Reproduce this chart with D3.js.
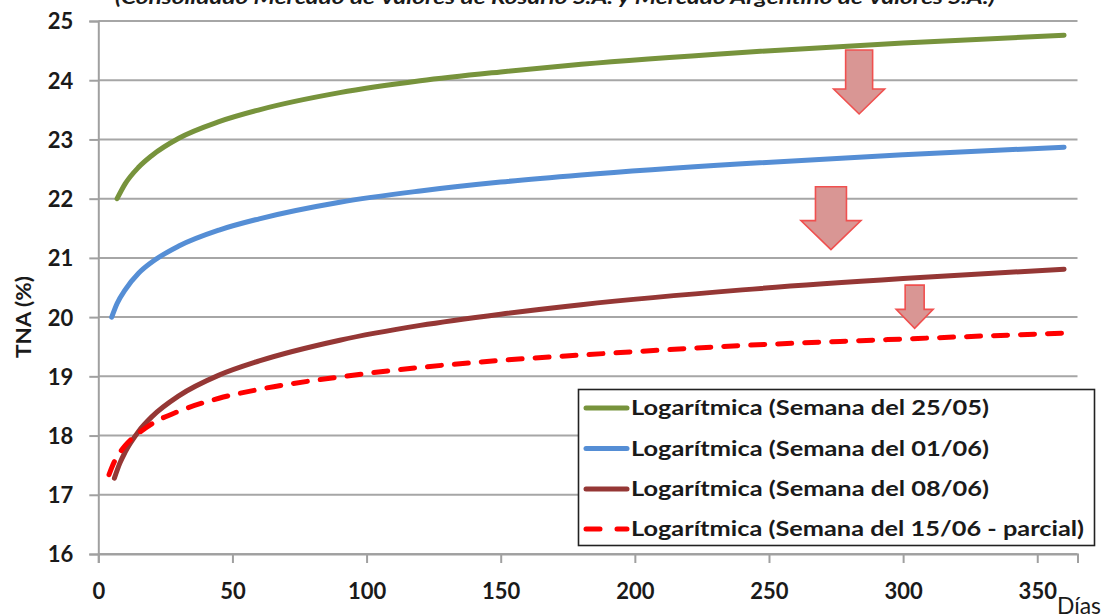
<!DOCTYPE html>
<html>
<head>
<meta charset="utf-8">
<script src="https://cdn.jsdelivr.net/npm/d3@7"></script>
<style>
  html, body { margin: 0; padding: 0; background: #fff; }
  svg { display: block; }
</style>
</head>
<body>
<svg id="chart" width="1106" height="614"></svg>
<script>
// Tasa nominal anual (%) by plazo (días) – logarithmic trend curves per week
const yTicks = [16, 17, 18, 19, 20, 21, 22, 23, 24, 25];
const xTicks = [0, 50, 100, 150, 200, 250, 300, 350];

const seriesNames = [
  "Logarítmica (Semana del 25/05)",
  "Logarítmica (Semana del 01/06)",
  "Logarítmica (Semana del 08/06)",
  "Logarítmica (Semana del 15/06 - parcial)"
];

const daysSemana2505 = [7, 10, 15, 20, 30, 45, 60, 90, 120, 150, 180, 240, 300, 360];
const tnaSemana2505  = [22.00, 22.25, 22.53, 22.73, 23.02, 23.30, 23.50, 23.79, 23.99, 24.14, 24.27, 24.47, 24.63, 24.76];

const daysSemana0106 = [5, 7, 10, 15, 20, 30, 45, 60, 90, 120, 150, 180, 240, 300, 360];
const tnaSemana0106  = [20.00, 20.23, 20.46, 20.74, 20.93, 21.20, 21.47, 21.66, 21.94, 22.13, 22.28, 22.40, 22.59, 22.74, 22.87];

const daysSemana0806 = [6, 8, 10, 15, 20, 30, 45, 60, 90, 120, 150, 180, 240, 300, 360];
const tnaSemana0806  = [17.28, 17.53, 17.72, 18.07, 18.32, 18.67, 19.02, 19.26, 19.61, 19.86, 20.05, 20.21, 20.46, 20.65, 20.81];

const daysSemana1506 = [4, 6, 8, 10, 15, 20, 30, 45, 60, 90, 120, 150, 180, 240, 300, 360];
const tnaSemana1506  = [17.34, 17.56, 17.71, 17.83, 18.04, 18.20, 18.41, 18.63, 18.78, 18.99, 19.15, 19.27, 19.36, 19.52, 19.63, 19.73];

// Downward arrows between consecutive weeks: day, value at top, value at tip
const arrowDays = [283.6, 273.1, 304.3];
const arrowTop  = [24.51, 22.20, 20.54];
const arrowTip  = [23.43, 21.14, 19.81];

const titleText = "(Consolidado Mercado de Valores de Rosario S.A. y Mercado Argentino de Valores S.A.)";

// ---- styling ----
const colors = ["#77933c", "#558ed5", "#953735", "#ff0000"];
const dashes = [null, null, null, "14,13"];
const arrowShape = [
  { shaft: 13.5, head: 25.5, headH: 25 },
  { shaft: 15.5, head: 30, headH: 29 },
  { shaft: 9.5, head: 18.5, headH: 19 }
];
const FONT = "Lato, 'Open Sans', sans-serif";

const svg = d3.select("#chart");
const x = d3.scaleLinear().domain([0, 365]).range([98.3, 1077.5]);
const y = d3.scaleLinear().domain([16, 25]).range([554, 21]);

// title (partly above the frame)
svg.append("text")
  .attr("x", 555).attr("y", 4)
  .attr("text-anchor", "middle")
  .attr("font-family", FONT)
  .attr("font-size", 19).attr("font-weight", "bold").attr("font-style", "italic")
  .attr("fill", "#1a1a1a")
  .attr("textLength", 880).attr("lengthAdjust", "spacingAndGlyphs")
  .text(titleText);

// horizontal gridlines
svg.append("g").selectAll("line").data(yTicks).join("line")
  .attr("x1", x(0)).attr("x2", x(365))
  .attr("y1", d => y(d)).attr("y2", d => y(d))
  .attr("stroke", "#a6a6a6").attr("stroke-width", 2);

// y axis
const yAxis = svg.append("g").attr("transform", `translate(${x(0)},0)`)
  .call(d3.axisLeft(y).tickValues(yTicks).tickSize(9).tickPadding(16).tickFormat(d3.format("d")));
yAxis.select(".domain").attr("stroke", "#a0a0a0").attr("stroke-width", 2);
yAxis.selectAll(".tick line").attr("stroke", "#a0a0a0").attr("stroke-width", 2);
yAxis.selectAll("text")
  .attr("font-family", FONT).attr("font-size", 22).attr("font-weight", "bold")
  .attr("fill", "#1a1a1a").attr("dy", "0.36em");

// x axis
const xAxis = svg.append("g").attr("transform", `translate(0,${y(16)})`)
  .call(d3.axisBottom(x).tickValues(xTicks).tickSize(9).tickPadding(20).tickFormat(d3.format("d")));
xAxis.select(".domain").attr("stroke", "#a0a0a0").attr("stroke-width", 2);
xAxis.selectAll(".tick line").attr("stroke", "#a0a0a0").attr("stroke-width", 2);
xAxis.selectAll("text")
  .attr("font-family", FONT).attr("font-size", 22).attr("font-weight", "bold")
  .attr("fill", "#1a1a1a");

// axis titles
svg.append("text")
  .attr("transform", `translate(31,${(y(19.8) + y(20.2)) / 2}) rotate(-90)`)
  .attr("x", 0).attr("y", 0)
  .attr("text-anchor", "middle")
  .attr("font-family", FONT).attr("font-size", 20).attr("font-weight", "bold")
  .attr("fill", "#1a1a1a")
  .attr("textLength", 82).attr("lengthAdjust", "spacingAndGlyphs")
  .text("TNA (%)");

svg.append("text")
  .attr("x", 1057).attr("y", 614)
  .attr("font-family", FONT).attr("font-size", 24)
  .attr("fill", "#1a1a1a")
  .attr("textLength", 44).attr("lengthAdjust", "spacingAndGlyphs")
  .text("Días");

// curves
const seriesData = [
  d3.zip(daysSemana2505, tnaSemana2505),
  d3.zip(daysSemana0106, tnaSemana0106),
  d3.zip(daysSemana0806, tnaSemana0806),
  d3.zip(daysSemana1506, tnaSemana1506)
];
const line = d3.line().x(d => x(d[0])).y(d => y(d[1])).curve(d3.curveMonotoneX);

svg.append("g").selectAll("path").data(seriesData).join("path")
  .attr("d", line)
  .attr("fill", "none")
  .attr("stroke", (d, i) => colors[i])
  .attr("stroke-width", 5)
  .attr("stroke-linecap", "round")
  .attr("stroke-linejoin", "round")
  .attr("stroke-dasharray", (d, i) => dashes[i]);

// arrows
const arrows = arrowDays.map((d, i) => ({ day: d, top: arrowTop[i], tip: arrowTip[i], s: arrowShape[i] }));
svg.append("g").selectAll("path").data(arrows).join("path")
  .attr("d", a => {
    const cx = x(a.day), t = y(a.top), b = y(a.tip), hy = b - a.s.headH;
    const p = d3.path();
    p.moveTo(cx - a.s.shaft, t);
    p.lineTo(cx + a.s.shaft, t);
    p.lineTo(cx + a.s.shaft, hy);
    p.lineTo(cx + a.s.head, hy);
    p.lineTo(cx, b);
    p.lineTo(cx - a.s.head, hy);
    p.lineTo(cx - a.s.shaft, hy);
    p.closePath();
    return p.toString();
  })
  .attr("fill", "#d99694")
  .attr("stroke", "#f0504f")
  .attr("stroke-width", 1.6)
  .attr("stroke-linejoin", "miter");

// legend
const legend = svg.append("g");
legend.append("rect")
  .attr("x", 578.5).attr("y", 389.5).attr("width", 516).attr("height", 156)
  .attr("fill", "#fff").attr("stroke", "#222").attr("stroke-width", 1.6);

const rowY = [408, 448.5, 489, 529];
const textLen = [358, 358, 358, 453];
const rows = legend.selectAll("g.row").data(seriesNames).join("g").attr("class", "row")
  .attr("transform", (d, i) => `translate(0,${rowY[i]})`);
rows.append("line")
  .attr("x1", 586).attr("x2", 627).attr("y1", 0).attr("y2", 0)
  .attr("stroke", (d, i) => colors[i]).attr("stroke-width", 5)
  .attr("stroke-linecap", "round")
  .attr("stroke-dasharray", (d, i) => i === 3 ? "14,17" : null);
rows.append("text")
  .attr("x", 631).attr("y", 7)
  .attr("font-family", FONT).attr("font-size", 20).attr("font-weight", "bold")
  .attr("fill", "#1a1a1a")
  .attr("textLength", (d, i) => textLen[i]).attr("lengthAdjust", "spacingAndGlyphs")
  .text(d => d);
</script>
</body>
</html>
